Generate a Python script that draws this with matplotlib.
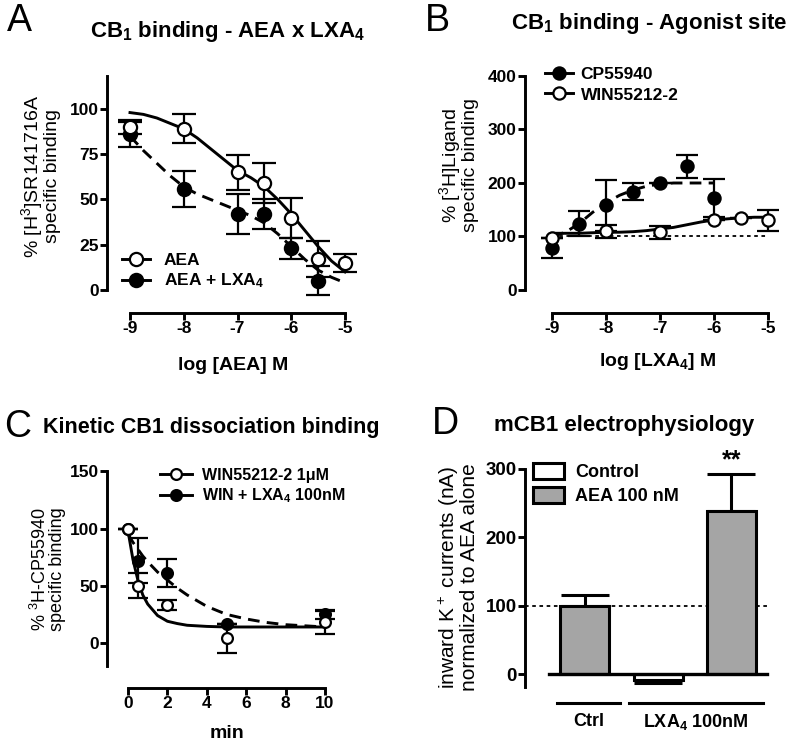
import matplotlib
matplotlib.use("Agg")
import matplotlib.pyplot as plt
from matplotlib.lines import Line2D
from matplotlib.patches import Patch

plt.rcParams["font.family"] = ["Liberation Sans", "DejaVu Sans"]
plt.rcParams["mathtext.default"] = "regular"
plt.rcParams["axes.unicode_minus"] = False

# ---- panel A: CB1 binding, AEA x LXA4 ----
a_x = [-9, -8, -7, -6.5, -6, -5.5, -5]
aea_mean = [90, 89, 65, 59, 40, 17, 15]
aea_sem = [4, 8, 9.5, 11, 11, 10, 5]
a_lx_x = [-9, -8, -7, -6.5, -6, -5.5]
aea_lx_mean = [86, 56, 42, 42, 23, 5]
aea_lx_sem = [7, 10, 11, 8.5, 6, 8]
a_fit_x = [-9, -8.75, -8.5, -8.25, -8, -7.75, -7.5, -7.25, -7,
           -6.75, -6.5, -6.25, -6, -5.75, -5.5, -5.25, -5]
aea_fit = [98, 97, 95, 92, 89, 84, 78, 72, 66, 62, 57, 50, 42, 33, 24, 16, 10]
aea_lx_fit = [85, 77, 70, 63, 57, 53, 50, 47, 44, 41, 37, 31, 24, 17, 11, 7, 4]

# ---- panel B: agonist site ----
cp_x = [-9, -8.5, -8, -7.5, -7, -6.5, -6]
cp_mean = [78, 124, 158, 184, 200, 231, 172]
cp_sem = [19, 23, 48, 16, 0, 21, 36]
win_x = [-9, -8, -7, -6, -5.5, -5]
win_mean = [98, 110, 108, 130, 134, 130]
win_sem = [0, 12, 12, 0, 0, 20]
cp_fit_x = [-9, -8.75, -8.5, -8.25, -8, -7.75, -7.5, -7.25, -7, -6.75, -6.5, -6.25, -6]
cp_fit = [100, 108, 124, 145, 163, 177, 187, 194, 198, 200, 200, 200, 200]
win_fit_x = a_fit_x
win_fit = [106, 106, 106, 107, 108, 108, 109, 111, 114, 117, 122, 127, 131, 133, 135, 136, 136]

# ---- panel C: kinetic dissociation ----
c_win_x = [0, 0.5, 2, 5, 10]
c_win_mean = [100, 50, 33, 4, 18]
c_win_sem = [0, 11, 4.5, 12.5, 10]
c_lx_x = [0, 0.5, 2, 5, 10]
c_lx_mean = [100, 72, 61, 17, 25]
c_lx_sem = [0, 20, 12, 0, 4]
c_fit_x = [0, 0.25, 0.5, 0.75, 1, 1.5, 2, 2.5, 3, 4, 5, 6, 7, 8, 9, 10]
c_win_fit = [98, 73, 55, 42, 34, 24, 19, 17, 15.5, 14.5, 14, 14, 14, 14, 14, 14]
c_lx_fit = [95, 88, 82, 76, 71, 62, 55, 48, 42, 32, 25, 21, 18, 16, 15, 14]

# ---- panel D: electrophysiology ----
d_values = [100, -9, 238]
d_err = [16, 4.5, 55]
d_is_control = [False, True, False]
d_groups = ["Ctrl", "LXA$_4$ 100nM"]

W, H = 796, 747
fig = plt.figure(figsize=(W / 100, H / 100), dpi=100)
GRAY = "#a5a5a5"
LW = 2.1
TICK_FS = 12.5
LAB_FS = 14
TITLE_FS = 16


def px_axes(l, t, r, b):
    return fig.add_axes([l / W, 1 - b / H, (r - l) / W, (b - t) / H])


def fx(px):
    return px / W


def fy(py):
    return 1 - py / H


def style(ax, fs=TICK_FS):
    for s in ["top", "right"]:
        ax.spines[s].set_visible(False)
    for s in ["left", "bottom"]:
        ax.spines[s].set_linewidth(LW)
    ax.tick_params(width=LW, length=5, labelsize=fs, pad=1)
    for lab in ax.get_xticklabels() + ax.get_yticklabels():
        lab.set_fontweight("bold")


def points(ax, x, y, e, filled, ms, cap):
    ax.errorbar(x, y, yerr=e, fmt="none", ecolor="black", elinewidth=1.6,
                capsize=cap, capthick=1.6, zorder=3)
    ax.plot(x, y, "o", ms=ms, mec="black", mew=1.6,
            mfc="black" if filled else "white", zorder=4)


def ylab(ax, text, x_px, y_px, fs, ls=0.95):
    ax.set_ylabel(text, fontsize=fs, linespacing=ls)
    ax.yaxis.label.set_va("center")
    pos = ax.get_position()
    ax.yaxis.set_label_coords((x_px / W - pos.x0) / pos.width,
                              (fy(y_px) - pos.y0) / pos.height)


def xlab(ax, text, x_px, y_px, fs):
    ax.set_xlabel(text, fontsize=fs, fontweight="bold")
    ax.xaxis.label.set_va("center")
    pos = ax.get_position()
    ax.xaxis.set_label_coords((x_px / W - pos.x0) / pos.width,
                              (fy(y_px) - pos.y0) / pos.height)


def handle(filled, ms):
    return Line2D([], [], color="black", lw=LW, marker="o", ms=ms, mew=1.6,
                  mec="black", mfc="black" if filled else "white")


# ===== A =====
axA = px_axes(107, 76, 359, 313)
axA.set_xlim(-9.428, -4.74)
axA.set_ylim(-12.7, 118.2)
axA.set_xticks([-9, -8, -7, -6, -5])
axA.set_yticks([0, 25, 50, 75, 100])
axA.spines["bottom"].set_bounds(-9, -5)
axA.spines["left"].set_bounds(0, 118.2)
axA.plot(a_fit_x, aea_fit, color="black", lw=LW, zorder=2)
axA.plot(a_fit_x, aea_lx_fit, color="black", lw=LW, ls=(0, (4, 2.5)), zorder=2)
points(axA, a_lx_x, aea_lx_mean, aea_lx_sem, True, 9.5, 8.5)
points(axA, a_x, aea_mean, aea_sem, False, 9.5, 8.5)
style(axA)
axA.legend([handle(False, 9.5), handle(True, 9.5)], ["AEA", "AEA + LXA$_4$"],
           loc="upper left", bbox_to_anchor=(fx(122), fy(253)),
           bbox_transform=fig.transFigure, frameon=False, borderpad=0,
           borderaxespad=0, handlelength=1.6, handletextpad=0.8,
           labelspacing=0.2, prop={"weight": "bold", "size": 12.5})
ylab(axA, "% [H$^3$]SR141716A\nspecific binding", 40, 176, LAB_FS, 0.9)
xlab(axA, "log [AEA] M", 233, 365, LAB_FS)
fig.text(fx(7), fy(21), "A", fontsize=27, va="center", ha="left")
fig.text(fx(227), fy(31), "CB$_1$ binding - AEA x LXA$_4$", fontsize=TITLE_FS,
         fontweight="bold", ha="center", va="center")

# ===== B =====
axB = px_axes(525, 76, 780, 313)
axB.set_xlim(-9.5, -4.78)
axB.set_ylim(-43, 400)
axB.set_xticks([-9, -8, -7, -6, -5])
axB.set_yticks([0, 100, 200, 300, 400])
axB.spines["bottom"].set_bounds(-9, -5)
axB.spines["left"].set_bounds(0, 400)
axB.plot([-9, -5], [100, 100], color="black", lw=1.3, ls=(0, (2, 2)), zorder=1)
axB.plot(cp_fit_x, cp_fit, color="black", lw=LW, ls=(0, (4, 2.5)), zorder=2)
axB.plot(win_fit_x, win_fit, color="black", lw=LW, zorder=2)
points(axB, cp_x, cp_mean, cp_sem, True, 8.8, 8)
points(axB, win_x, win_mean, win_sem, False, 8.8, 8)
style(axB)
axB.legend([handle(True, 8.8), handle(False, 8.8)], ["CP55940", "WIN55212-2"],
           loc="upper left", bbox_to_anchor=(fx(545), fy(67)),
           bbox_transform=fig.transFigure, frameon=False, borderpad=0,
           borderaxespad=0, handlelength=1.6, handletextpad=0.45,
           labelspacing=0.3, prop={"weight": "bold", "size": 12.5})
ylab(axB, "% [$^3$H]Ligand\nspecific binding", 458, 165, LAB_FS, 0.9)
xlab(axB, "log [LXA$_4$] M", 658, 362, LAB_FS)
fig.text(fx(425), fy(21), "B", fontsize=27, va="center", ha="left")
fig.text(fx(649), fy(23), "CB$_1$ binding - Agonist site", fontsize=TITLE_FS,
         fontweight="bold", ha="center", va="center")

# ===== C =====
axC = px_axes(107, 465, 340, 688)
axC.set_xlim(-1.066, 10.76)
axC.set_ylim(-39.3, 155.5)
axC.set_xticks([0, 2, 4, 6, 8, 10])
axC.set_yticks([0, 50, 100, 150])
axC.spines["bottom"].set_bounds(0, 10)
axC.spines["left"].set_bounds(-20, 150)
axC.plot(c_fit_x, c_lx_fit, color="black", lw=LW, ls=(0, (4, 2.5)), zorder=2)
axC.plot(c_fit_x, c_win_fit, color="black", lw=LW, zorder=2)
points(axC, c_lx_x, c_lx_mean, c_lx_sem, True, 7.8, 7)
points(axC, c_win_x, c_win_mean, c_win_sem, False, 7.8, 7)
style(axC)
axC.legend([handle(False, 7.8), handle(True, 7.8)],
           ["WIN55212-2 1\u03bcM", "WIN + LXA$_4$ 100nM"],
           loc="upper left", bbox_to_anchor=(fx(160), fy(468)),
           bbox_transform=fig.transFigure, frameon=False, borderpad=0,
           borderaxespad=0, handlelength=2.0, handletextpad=0.6,
           labelspacing=0.2, prop={"weight": "bold", "size": 11.5})
ylab(axC, "% $^3$H-CP55940\nspecific binding", 48, 569, 13, 0.9)
xlab(axC, "min", 227, 733, LAB_FS)
fig.text(fx(4), fy(427), "C", fontsize=27, va="center", ha="left")
fig.text(fx(211), fy(428), "Kinetic CB1 dissociation binding", fontsize=15.5,
         fontweight="bold", ha="center", va="center")

# ===== D =====
axD = px_axes(525, 462, 770, 687)
axD.set_xlim(-0.82, 2.53)
axD.set_ylim(-19, 310)
axD.set_yticks([0, 100, 200, 300])
axD.set_xticks([])
axD.spines["left"].set_bounds(-19, 300)
axD.spines["bottom"].set_visible(False)
pos = range(len(d_values))
colors = ["white" if c else GRAY for c in d_is_control]
axD.bar(pos, d_values, width=0.67, color=colors, edgecolor="black",
        linewidth=2.2, zorder=2)
for p, v, e in zip(pos, d_values, d_err):
    yerr = [[0], [e]] if v >= 0 else [[e], [0]]
    axD.errorbar([p], [v], yerr=yerr, fmt="none", ecolor="black",
                 elinewidth=2.2, capsize=17, capthick=2.2, zorder=1)
axD.plot([-0.49, 2.49], [0, 0], color="black", lw=2.4, zorder=3)
axD.plot([-0.82, 2.49], [100, 100], color="black", lw=1.3, ls=(0, (2, 2)), zorder=1)
axD.text(2, d_values[2] + d_err[2] + 2, "**", fontsize=18, fontweight="bold",
         ha="center", va="bottom")
style(axD, fs=13.5)
tr = axD.get_xaxis_transform()
axD.plot([-0.38, 0.48], [-0.071, -0.071], color="black", lw=2.2,
         transform=tr, clip_on=False)
axD.plot([0.6, 2.44], [-0.071, -0.071], color="black", lw=2.2,
         transform=tr, clip_on=False)
axD.text(0.05, -0.155, d_groups[0], transform=tr, ha="center", va="center",
         fontsize=13, fontweight="bold")
axD.text(1.52, -0.155, d_groups[1], transform=tr, ha="center", va="center",
         fontsize=13, fontweight="bold")
axD.legend([Patch(facecolor="white", edgecolor="black", lw=2.2),
            Patch(facecolor=GRAY, edgecolor="black", lw=2.2)],
           ["Control", "AEA 100 nM"],
           loc="upper left", bbox_to_anchor=(fx(533), fy(463)),
           bbox_transform=fig.transFigure, frameon=False, borderpad=0,
           borderaxespad=0, handlelength=1.7, handleheight=1.0,
           handletextpad=0.65, labelspacing=0.3,
           prop={"weight": "bold", "size": 13})
ylab(axD, "inward K$^+$ currents (nA)\nnormalized to AEA alone", 458, 577, 15, 0.9)
fig.text(fx(432), fy(424), "D", fontsize=27, va="center", ha="left")
fig.text(fx(624), fy(426), "mCB1 electrophysiology", fontsize=TITLE_FS,
         fontweight="bold", ha="center", va="center")

fig.savefig("out.png", dpi=100)
